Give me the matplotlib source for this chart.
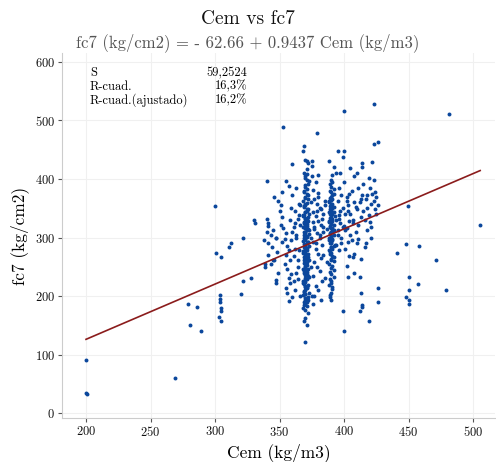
import matplotlib
matplotlib.use("Agg")
import matplotlib.pyplot as plt
import numpy as np

plt.rcParams['font.family'] = ['cmr10', 'DejaVu Serif']
plt.rcParams['axes.formatter.use_mathtext'] = True

title = "Cem vs fc7"
subtitle = "fc7 (kg/cm2) = - 62.66 + 0.9437 Cem (kg/m3)"
xlabel = "Cem (kg/m3)"
ylabel = "fc7 (kg/cm2)"
intercept = -62.66
slope = 0.9437
stats_labels = ["S", "R-cuad.", "R-cuad.(ajustado)"]
stats_values = ["59,2524", "16,3%", "16,2%"]
xticks = [200, 250, 300, 350, 400, 450, 500]
yticks = [0, 100, 200, 300, 400, 500, 600]

# outliers and sparse points
cem_sparse = [200, 200, 201, 269, 279, 286, 280.5, 289, 300, 301, 305, 304, 304, 305, 305, 303, 305, 304,
              322, 328, 320, 312, 310.5, 322, 330, 331, 340, 341, 340, 346, 340, 338, 341, 347, 339, 339, 346, 347, 347,
              353, 378.7, 369, 371, 375.5, 371, 360, 375, 380, 355,
              400, 423, 481, 423.5, 426.6, 400, 395, 399.5, 414, 414, 422, 449.8, 505.5,
              448, 458, 441, 471.5, 450, 457, 450, 448, 450, 450, 479,
              426.6, 426, 413, 414, 414, 412, 419, 398.8, 400, 403, 402, 412, 408, 413, 407, 396, 408, 416, 410, 394]
fc_sparse = [90, 35, 32, 60, 186, 181, 150, 140, 354, 274, 266, 201, 189, 179, 174, 165, 158, 195,
             225, 230, 203, 291, 283, 300, 330, 324, 332, 325, 397, 370, 310, 296, 290, 300, 255, 249, 261, 223, 228,
             489, 479, 457, 431, 431, 409, 426, 423, 407, 397,
             516, 528, 511, 460, 463, 448, 448, 438, 421, 428, 429, 354, 322,
             289, 286, 274, 262, 232, 220, 211, 199, 194, 187, 211,
             213, 189, 206, 184, 181, 175, 158, 174, 141, 233, 252, 233, 240, 264, 266, 278, 271, 283, 291, 288]

# dense column near 370
cem_c370 = [370, 371, 369, 370, 372, 370, 368, 371, 370, 369, 372, 370, 371, 368, 370, 373, 369, 370, 371, 370,
            372, 369, 370, 368, 371, 370, 373, 370, 369, 371, 370, 372, 368, 370, 371, 369, 370, 373, 370, 371,
            369, 370, 372, 368, 370, 371, 370, 369, 373, 370, 371, 372, 368, 370, 369, 371, 370, 373, 370, 369,
            371, 372, 370, 368, 370, 371, 369, 370, 372, 371, 370, 368, 369, 373, 370, 371, 372, 369, 370, 371,
            368, 370, 372, 369, 371, 370, 373, 370, 369, 371, 372, 370, 368,
            369, 371, 370, 372, 370, 369, 371, 370, 368, 370, 372, 371, 369, 370, 370, 371, 369, 372, 370, 368,
            371, 370, 369, 372, 370, 371, 369, 370, 373, 370, 371, 369, 370, 372, 368, 370, 371, 369, 370, 372,
            370, 371, 369, 370, 372, 371, 370]
fc_c370 = [121, 151, 158, 163, 171, 176, 180, 183, 187, 190, 193, 194, 197, 201, 203, 206, 207, 211, 213, 216,
           219, 221, 224, 226, 229, 231, 233, 236, 239, 241, 244, 246, 247, 251, 253, 256, 257, 261, 263, 264,
           267, 269, 272, 274, 276, 279, 281, 283, 286, 287, 291, 293, 294, 297, 299, 301, 303, 306, 307, 309,
           312, 314, 316, 318, 321, 323, 326, 327, 329, 332, 334, 336, 339, 341, 343, 346, 349, 352, 356, 359,
           363, 367, 372, 377, 383, 389, 396, 402, 410, 417, 428, 433, 448,
           185, 189, 196, 199, 204, 209, 215, 218, 223, 228, 234, 238, 243, 249, 254, 259, 262, 266, 271, 277,
           282, 285, 289, 292, 296, 302, 305, 310, 313, 317, 320, 325, 331, 335, 338, 344, 348, 354, 358, 365,
           370, 375, 380, 386, 392, 399, 405]

# dense column near 390
cem_c390 = [390, 389, 391, 388, 390, 392, 389, 390, 391, 387, 390, 392, 389, 390, 388, 391, 390, 393, 389, 390,
            391, 388, 390, 392, 389, 390, 391, 387, 390, 389, 392, 390, 388, 391, 390, 389, 393, 390, 391, 388,
            390, 389, 392, 390, 391, 388, 390, 389, 391, 390, 392, 389, 390, 391,
            390, 391, 389, 390, 392, 388, 390, 391, 389, 390, 392, 390, 388, 391, 390, 389, 390, 392, 391, 389,
            390, 388, 391, 390, 389, 392, 390, 391, 389, 390, 388, 391, 390, 392, 389, 390, 391, 389, 390, 392]
fc_c390 = [193, 201, 212, 219, 226, 233, 241, 248, 252, 258, 262, 266, 271, 274, 278, 281, 284, 288, 291, 293,
           296, 299, 302, 304, 307, 309, 311, 314, 316, 318, 321, 323, 326, 328, 331, 333, 336, 338, 341, 344,
           347, 349, 352, 355, 358, 361, 364, 368, 372, 377, 383, 391, 398, 406,
           205, 216, 229, 237, 245, 255, 264, 269, 276, 283, 286, 290, 295, 298, 301, 306, 310, 313, 317, 320,
           325, 329, 332, 335, 340, 343, 346, 351, 354, 357, 362, 366, 370, 375, 380, 387, 394, 199, 222, 260]

# scattered 340-385
cem_mid = [341, 345, 343, 347, 344, 348, 341, 345, 343, 349, 350, 352, 351, 353, 355, 354, 352, 356, 357, 355,
           358, 354, 356, 359, 357, 358, 355, 356, 360, 357, 362, 361, 363, 364, 362, 363, 361, 364, 362, 365,
           360, 363, 366, 366, 366, 365, 364, 359, 358, 360, 351, 349, 352, 357,
           375, 378, 376, 380, 377, 379, 381, 376, 378, 380, 382, 377, 379, 381, 376, 383, 378, 380, 382, 377,
           379, 381, 376, 383, 378, 380, 377, 382, 384, 384, 384, 385, 385, 374, 374, 374, 375, 376,
           379, 383, 377, 381, 385, 378, 382, 376, 380, 384, 363, 361, 365, 359, 362, 364]
fc_mid = [320, 312, 305, 300, 283, 276, 270, 262, 255, 240, 345, 335, 322, 316, 308, 298, 292, 286, 278, 270,
          262, 255, 247, 238, 231, 222, 214, 205, 198, 192, 210, 225, 240, 262, 280, 300, 318, 332, 345, 358,
          372, 385, 200, 322, 355, 279, 229, 350, 330, 310, 356, 362, 377, 388,
          405, 395, 382, 376, 366, 358, 350, 343, 336, 329, 322, 315, 308, 300, 293, 287, 280, 272, 265, 258,
          250, 242, 235, 226, 218, 210, 200, 193, 340, 310, 270, 355, 230, 360, 300, 250, 200, 187,
          345, 332, 318, 305, 362, 290, 348, 326, 370, 318, 305, 268, 338, 295, 325, 250]

# scattered 392-426
cem_right = [398, 395, 397, 396, 399, 395, 398, 396, 400, 402, 403, 401, 404, 402, 405, 403, 401, 404, 409, 411,
             413, 410, 412, 414, 411, 415, 417, 418, 419, 420, 418, 421, 417, 422, 423, 424, 420, 423, 425, 426,
             425, 421, 419, 405, 408, 410, 406, 397, 392, 388, 394, 400, 403, 407, 411, 415, 418, 406, 409, 396,
             394, 397, 399, 402, 405, 407, 413, 416, 421, 424, 395, 398, 401, 404, 408]
fc_right = [300, 312, 325, 338, 350, 362, 372, 385, 395, 370, 355, 340, 328, 316, 305, 292, 280, 268, 310, 322,
            335, 348, 360, 372, 385, 392, 365, 350, 338, 326, 312, 300, 290, 375, 362, 348, 385, 398, 370, 355,
            340, 318, 402, 418, 405, 410, 380, 410, 420, 430, 410, 320, 345, 330, 298, 345, 372, 295, 352, 332,
            330, 345, 318, 362, 340, 325, 365, 330, 358, 378, 305, 290, 312, 375, 360]

cem_all = cem_sparse + cem_c370 + cem_c390 + cem_mid + cem_right
fc_all = fc_sparse + fc_c370 + fc_c390 + fc_mid + fc_right

fig = plt.figure(figsize=(4.96, 4.62), dpi=100)
ax = fig.add_axes([0.125, 0.095, 0.873, 0.79])

ax.scatter(cem_all, fc_all, s=8, color='#0b479c', linewidths=0, zorder=3)
xl = np.array([min(cem_all), max(cem_all)])
ax.plot(xl, intercept + slope * xl, color='#8b1c1c', lw=1.2, zorder=4)

ax.set_xlim(181.4, 517)
ax.set_ylim(-8.5, 615)
ax.set_xticks(xticks)
ax.set_yticks(yticks)
ax.grid(True, color='#f0f0f0', lw=0.8)
ax.set_axisbelow(True)
for s in ['top', 'right']:
    ax.spines[s].set_visible(False)
for s in ['left', 'bottom']:
    ax.spines[s].set_color('#cccccc')
    ax.spines[s].set_linewidth(0.8)
ax.tick_params(axis='both', length=3, color='#555555', labelsize=9, labelcolor='#111111', pad=2)

ax.set_xlabel(xlabel, fontsize=12.5, labelpad=3)
ax.set_ylabel(ylabel, fontsize=12.5, labelpad=4)

fig.text(0.5, 0.958, title, ha='center', va='center', fontsize=14, color='#111111')
fig.text(0.5, 0.907, subtitle, ha='center', va='center', fontsize=12, color='#555555')

for i, (lab, val) in enumerate(zip(stats_labels, stats_values)):
    y = 0.945 - i * 0.037
    ax.text(0.0645, y, lab, transform=ax.transAxes, ha='left', va='center', fontsize=9, color='#000000')
    ax.text(0.4286, y, val, transform=ax.transAxes, ha='right', va='center', fontsize=9, color='#000000')

fig.savefig('out.png', dpi=100)
